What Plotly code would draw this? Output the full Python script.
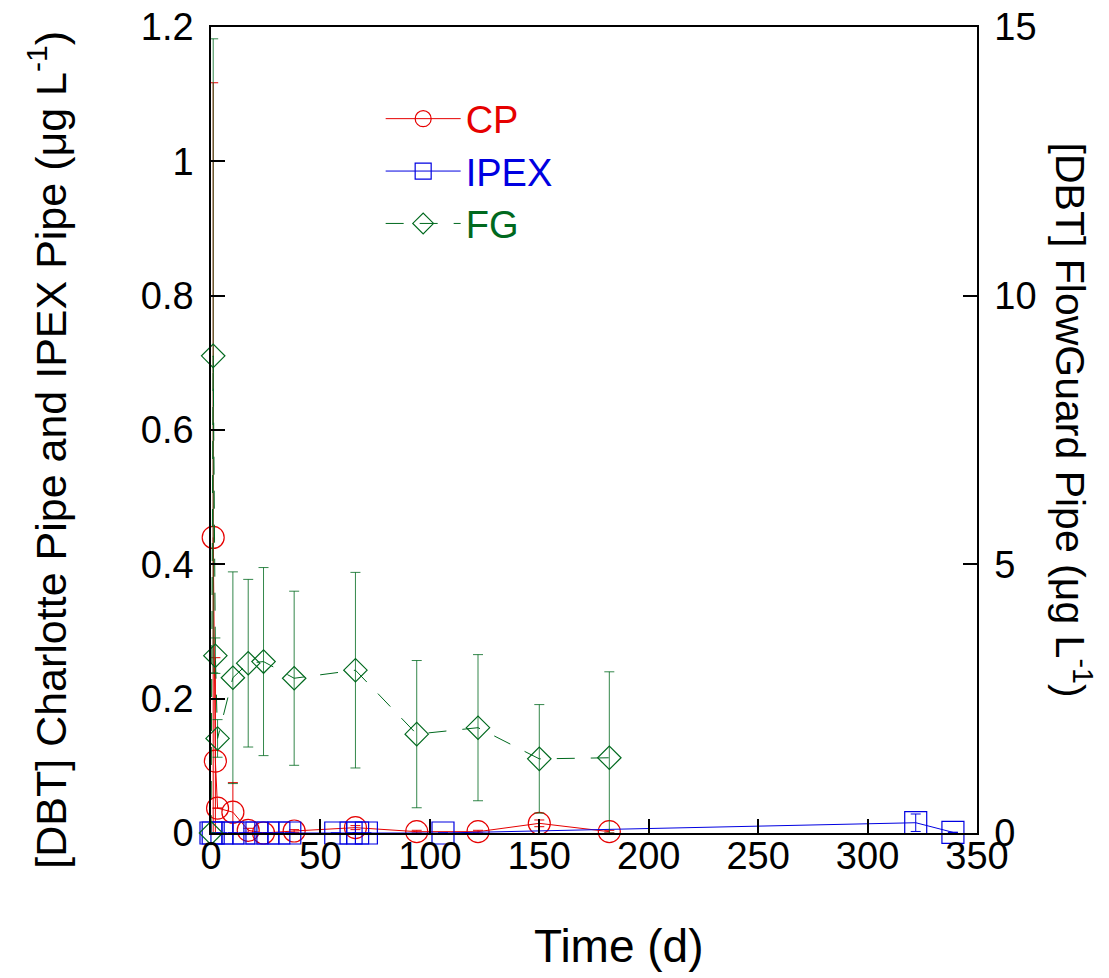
import plotly.graph_objects as go

# ---------------- data ----------------
time_cp = [1, 2, 3, 10, 17, 24, 38, 66, 94, 122, 150, 182]
cp_conc = [0.44, 0.107, 0.037, 0.031, 0.004, 0.0, 0.003, 0.008, 0.002, 0.002, 0.0144, 0.002]
cp_err = [0.677, 0.154, 0.0, 0.044, 0.003, 0.0, 0.002, 0.003, 0.002, 0.002, 0.005, 0.002]

time_ipex = [0, 1, 5, 10, 15, 21, 26, 31, 36, 57, 64, 67, 71, 106, 322, 339]
ipex_conc = [0, 0, 0, 0, 0, 0, 0, 0, 0, 0, 0, 0, 0, 0, 0.0153, 0.001]
ipex_err = [0, 0, 0, 0, 0, 0, 0, 0, 0, 0, 0, 0, 0, 0, 0.013, 0]

time_fg = [0, 1, 2, 3, 10, 17, 24, 38, 66, 94, 122, 150, 182]
fg_conc = [0, 8.88, 3.30, 1.76, 2.89, 3.16, 3.19, 2.88, 3.03, 1.84, 1.96, 1.38, 1.40]
fg_err = [0, 5.9, 0.33, 0.35, 1.97, 1.56, 1.75, 1.62, 1.82, 1.37, 1.36, 1.01, 1.6]

x_ticks = [0, 50, 100, 150, 200, 250, 300, 350]
y_left_ticks = [0, 0.2, 0.4, 0.6, 0.8, 1.0, 1.2]
y_left_labels = ["0", "0.2", "0.4", "0.6", "0.8", "1", "1.2"]
y_right_ticks = [0, 5, 10, 15]

RED = "rgb(230,0,0)"
BLUE = "rgb(0,0,225)"
GREEN = "rgb(0,105,30)"
FONT = "Liberation Sans, Arial, Helvetica, sans-serif"

fig = go.Figure()

fig.add_trace(go.Scatter(
    x=time_cp, y=cp_conc, mode="lines+markers",
    name=f"<span style='color:{RED}'>CP</span>", legendgroup="cp",
    line=dict(color=RED, width=1),
    marker=dict(symbol="circle-open", size=22, color=RED, line=dict(width=1.2, color=RED)),
    error_y=dict(type="data", array=cp_err,
                 arrayminus=[min(e, v) for e, v in zip(cp_err, cp_conc)],
                 color=RED, thickness=1, width=5),
    cliponaxis=False,
))

fig.add_trace(go.Scatter(
    x=time_ipex, y=ipex_conc, mode="lines+markers",
    name=f"<span style='color:{BLUE}'>IPEX</span>", legendgroup="ipex",
    line=dict(color=BLUE, width=1),
    marker=dict(symbol="square-open", size=22, color=BLUE, line=dict(width=1.2, color=BLUE)),
    error_y=dict(type="data", array=ipex_err,
                 arrayminus=[min(e, v) for e, v in zip(ipex_err, ipex_conc)],
                 color=BLUE, thickness=1, width=5),
    cliponaxis=False,
))

fig.add_trace(go.Scatter(
    x=time_fg, y=fg_conc, mode="lines+markers", yaxis="y2",
    name=f"<span style='color:{GREEN}'>FG</span>", legendgroup="fg",
    line=dict(color=GREEN, width=1, dash="18px,16px"),
    marker=dict(symbol="diamond-open", size=18, color=GREEN, line=dict(width=1.2, color=GREEN)),
    error_y=dict(type="data", array=fg_err,
                 arrayminus=[min(e, v) for e, v in zip(fg_err, fg_conc)],
                 color="rgba(0,105,30,0.8)", thickness=1, width=5),
    cliponaxis=False,
))

axis_common = dict(
    showgrid=False, zeroline=False, showline=True, linecolor="black", linewidth=1.5,
    ticks="inside", ticklen=14, tickwidth=1.5, tickcolor="black", automargin=False,
    tickfont=dict(family=FONT, size=38, color="black"),
)

fig.update_layout(
    width=1109, height=978,
    margin=dict(l=210.5, r=132, t=27, b=145, pad=0, autoexpand=False),
    paper_bgcolor="white", plot_bgcolor="white",
    showlegend=True,
    legend=dict(
        x=0.2215, y=0.925, xanchor="left", yanchor="top",
        font=dict(family=FONT, size=38),
        bgcolor="rgba(0,0,0,0)", borderwidth=0,
        itemwidth=75, tracegroupgap=0,
    ),
    xaxis=dict(range=[0, 350], tickvals=x_ticks, mirror=True, ticklabelstandoff=-11, **axis_common),
    yaxis=dict(range=[0, 1.2], tickvals=y_left_ticks, ticktext=y_left_labels,
               ticklabelstandoff=8, **axis_common),
    yaxis2=dict(range=[0, 15], tickvals=y_right_ticks, overlaying="y", side="right",
                ticklabelstandoff=8, **axis_common),
    annotations=[
        dict(text="Time (d)", xref="paper", yref="paper", x=0.533, y=-0.14,
             xanchor="center", yanchor="middle", showarrow=False,
             font=dict(family=FONT, size=46, color="black")),
        dict(text="[DBT] Charlotte Pipe and IPEX Pipe (μg L<sup>-1</sup>)", xref="paper", yref="paper",
             x=-0.2133, y=0.475, xanchor="center", yanchor="middle", textangle=-90, showarrow=False,
             font=dict(family=FONT, size=43, color="black")),
        dict(text="[DBT] FlowGuard Pipe (μg L<sup>-1</sup>)", xref="paper", yref="paper",
             x=1.125, y=0.512, xanchor="center", yanchor="middle", textangle=90, showarrow=False,
             font=dict(family=FONT, size=41, color="black")),
    ],
)

fig.write_html("out.html", config={"displayModeBar": False},
               post_script="document.body.style.margin='0px';")
